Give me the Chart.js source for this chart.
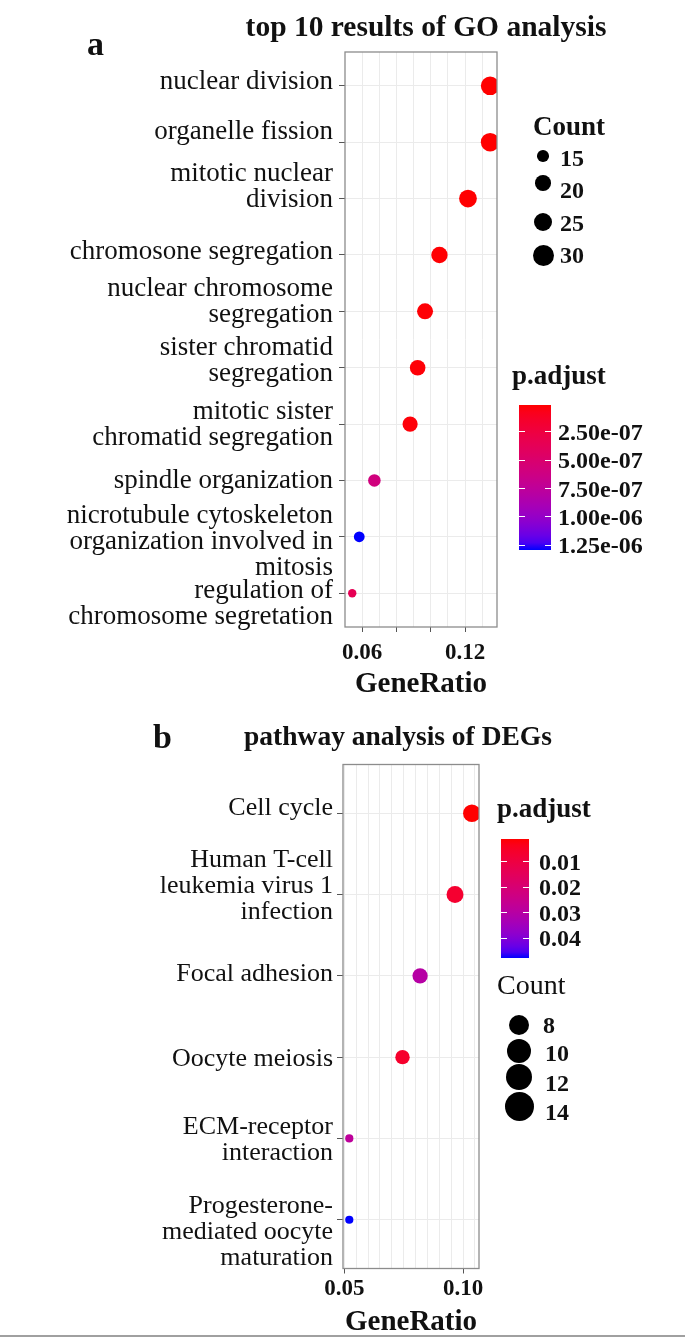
<!DOCTYPE html>
<html>
<head>
<meta charset="utf-8">
<script src="https://cdn.jsdelivr.net/npm/chart.js"></script>
<style>
  html, body { margin: 0; padding: 0; background: #fff; }
  #page { position: relative; width: 685px; height: 1340px; overflow: hidden;
          font-family: "Liberation Serif", "Times New Roman", serif; color: #111; }
  canvas { position: absolute; left: 0; }
  .txt { position: absolute; white-space: nowrap; line-height: 1; }
  .dot { position: absolute; border-radius: 50%; background: #000; }
  .bar { position: absolute; }
  .tk { position: absolute; height: 1px; background: #fff; }
  .rule { position: absolute; left: 0; width: 685px; top: 1335px; height: 2px; background: #a0a0a0; }
</style>
</head>
<body>
<div id="page">
  <canvas id="chartA" width="685" height="700" style="top:0"></canvas>
  <canvas id="chartB" width="685" height="640" style="top:700px"></canvas>
  <div class="rule"></div>
</div>
<script>
// ---- panel a: GO analysis ----
const termsA = [
  "nuclear division",
  "organelle fission",
  ["mitotic nuclear", "division"],
  "chromosone segregation",
  ["nuclear chromosome", "segregation"],
  ["sister chromatid", "segregation"],
  ["mitotic sister", "chromatid segregation"],
  "spindle organization",
  ["nicrotubule cytoskeleton", "organization involved in", "mitosis"],
  ["regulation of", "chromosome segretation"]
];
const ratioA = [0.1346, 0.1346, 0.1217, 0.1051, 0.0967, 0.0924, 0.0880, 0.0672, 0.0584, 0.0543];
const countA = [30, 30, 27, 23, 22, 21, 20, 15, 13, 12];
const padjA = [1.6e-8, 1.7e-8, 1.9e-8, 2.2e-8, 2.6e-8, 3.0e-8, 3.5e-8, 5.9e-7, 1.29e-6, 3.6e-7];
const xGridA = [0.06, 0.07, 0.08, 0.09, 0.10, 0.11, 0.12, 0.13];
const xLabelA = [0.06, 0.12];
const xMarkA = [0.06, 0.08, 0.10, 0.12];
const countLegendA = [15, 20, 25, 30];
const padjTicksA = [2.5e-7, 5.0e-7, 7.5e-7, 1.0e-6, 1.25e-6];
const padjTickLabelsA = ["2.50e-07", "5.00e-07", "7.50e-07", "1.00e-06", "1.25e-06"];

// ---- panel b: pathway analysis ----
const termsB = [
  "Cell cycle",
  ["Human T-cell", "leukemia virus 1", "infection"],
  "Focal adhesion",
  "Oocyte meiosis",
  ["ECM-receptor", "interaction"],
  ["Progesterone-", "mediated oocyte", "maturation"]
];
const ratioB = [0.1037, 0.0966, 0.0819, 0.0745, 0.0521, 0.0521];
const countB = [14, 13, 11, 10, 7, 7];
const padjB = [0.0011, 0.0067, 0.030, 0.0062, 0.028, 0.0477];
const xGridB = [0.05, 0.055, 0.06, 0.065, 0.07, 0.075, 0.08, 0.085, 0.09, 0.095, 0.10, 0.105];
const xLabelB = [0.05, 0.10];
const xMarkB = [0.05, 0.10];
const countLegendB = [8, 10, 12, 14];
const padjTicksB = [0.01, 0.02, 0.03, 0.04];
const padjTickLabelsB = ["0.01", "0.02", "0.03", "0.04"];

// ---- look ----
const FONT = '"Liberation Serif", "Times New Roman", serif';
const INK = "#111";
const GRID = "#ebebeb";

const layoutA = {
  canvas: "chartA", canvasH: 700, left: 345, right: 497, top: 52, bottom: 627,
  xMin: 0.0501, xMax: 0.1386, rRange: [4.2, 9.3],
  tickPad: 7, titlePad: 1, labelSize: 27, labelPad: 12,
  labelNudge: [-4, -10, -12, -3, -9, -6.5, 1, 0, 4.7, 11]
};
const layoutB = {
  canvas: "chartB", canvasH: 640, left: 343, right: 479, top: 64.5, bottom: 568.5,
  xMin: 0.04945, xMax: 0.1067, rRange: [4.1, 8.8],
  tickPad: 2, titlePad: 3, labelSize: 26, labelPad: 10,
  labelNudge: [-5, -8, -2, 2, 2, 12]
};

// ggplot-like red -> blue gradient, interpolated in Lab
const LOW = [255, 0, 0], HIGH = [0, 0, 255];
const WP = [0.95047, 1, 1.08883];
function toLin(c) { c /= 255; return c <= 0.04045 ? c / 12.92 : Math.pow((c + 0.055) / 1.055, 2.4); }
function toSrgb(c) {
  c = c <= 0.0031308 ? 12.92 * c : 1.055 * Math.pow(Math.max(c, 0), 1 / 2.4) - 0.055;
  return Math.round(Math.max(0, Math.min(1, c)) * 255);
}
function fLab(t) { return t > 0.008856 ? Math.cbrt(t) : 7.787 * t + 16 / 116; }
function fInv(t) { return t > 0.206893 ? t * t * t : (t - 16 / 116) / 7.787; }
function rgb2lab([r, g, b]) {
  const R = toLin(r), G = toLin(g), B = toLin(b);
  const X = (0.4124 * R + 0.3576 * G + 0.1805 * B) / WP[0];
  const Y = 0.2126 * R + 0.7152 * G + 0.0722 * B;
  const Z = (0.0193 * R + 0.1192 * G + 0.9505 * B) / WP[2];
  const fx = fLab(X), fy = fLab(Y), fz = fLab(Z);
  return [116 * fy - 16, 500 * (fx - fy), 200 * (fy - fz)];
}
function lab2rgb([L, a, b]) {
  const fy = (L + 16) / 116, fx = fy + a / 500, fz = fy - b / 200;
  const X = fInv(fx) * WP[0], Y = fInv(fy), Z = fInv(fz) * WP[2];
  return [
    toSrgb(3.2406 * X - 1.5372 * Y - 0.4986 * Z),
    toSrgb(-0.9689 * X + 1.8758 * Y + 0.0415 * Z),
    toSrgb(0.0557 * X - 0.2040 * Y + 1.0570 * Z)
  ];
}
const labLow = rgb2lab(LOW), labHigh = rgb2lab(HIGH);
function gradient(t) {
  const c = lab2rgb(labLow.map((v, k) => v + (labHigh[k] - v) * t));
  return `rgb(${c[0]},${c[1]},${c[2]})`;
}
function colorOf(p, all) {
  const lo = Math.min(...all), hi = Math.max(...all);
  return gradient((p - lo) / (hi - lo));
}
// area scaling, as ggplot's scale_size
function sizeOf(c, all, [rMin, rMax]) {
  const lo = Math.min(...all), hi = Math.max(...all);
  return rMin + (rMax - rMin) * Math.sqrt((c - lo) / (hi - lo));
}
const near = (list, v) => list.some(l => Math.abs(l - v) < 1e-9);

const framePlugin = {
  id: "frame",
  afterDraw(chart) {
    const { ctx, chartArea: a } = chart;
    ctx.save();
    ctx.strokeStyle = "#8c8c8c";
    ctx.lineWidth = 1.3;
    ctx.strokeRect(a.left, a.top, a.right - a.left, a.bottom - a.top);
    ctx.restore();
  }
};

function makeChart(L, terms, ratio, count, padj, xGrid, xLabel, xMark) {
  const n = terms.length;
  const yMin = -0.6, yMax = n - 1 + 0.6;
  const rowPx = (L.bottom - L.top) / (yMax - yMin);

  return new Chart(document.getElementById(L.canvas), {
    type: "bubble",
    data: {
      datasets: [{
        data: ratio.map((x, i) => ({ x, y: i, r: sizeOf(count[i], count, L.rRange) })),
        backgroundColor: padj.map(p => colorOf(p, padj)),
        borderWidth: 0,
        xAxisID: "x",
        yAxisID: "y"
      }]
    },
    options: {
      responsive: false,
      animation: false,
      events: [],
      layout: { padding: { left: 0, right: 685 - L.right, top: L.top, bottom: 0 } },
      plugins: { legend: { display: false }, tooltip: { enabled: false } },
      scales: {
        x: {
          type: "linear", min: L.xMin, max: L.xMax,
          afterBuildTicks: s => { s.ticks = xGrid.map(v => ({ value: v })); },
          afterFit: s => { s.height = L.canvasH - L.bottom; },
          ticks: {
            autoSkip: false, maxRotation: 0, padding: L.tickPad, color: INK,
            font: { family: FONT, size: 23, weight: "bold" },
            callback: v => near(xLabel, v) ? v.toFixed(2) : ""
          },
          grid: {
            color: GRID, lineWidth: 1, tickLength: 5,
            tickColor: c => (c.tick && near(xMark, c.tick.value)) ? "#555" : "rgba(0,0,0,0)"
          },
          border: { display: false },
          title: {
            display: true, text: "GeneRatio", color: INK,
            font: { family: FONT, size: 29, weight: "bold", lineHeight: 1 },
            padding: { top: 0, bottom: L.titlePad }
          }
        },
        y: {
          type: "linear", position: "left", reverse: true, min: yMin, max: yMax, weight: 0,
          afterBuildTicks: s => { s.ticks = terms.map((_, i) => ({ value: i })); },
          afterFit: s => { s.width = 0; },
          ticks: { display: false },
          grid: { color: GRID, lineWidth: 1, tickLength: 6, tickColor: "#555" },
          border: { display: false }
        },
        yLab: {
          type: "linear", position: "left", reverse: true, min: yMin, max: yMax, weight: 1,
          afterBuildTicks: s => { s.ticks = terms.map((_, i) => ({ value: i + L.labelNudge[i] / rowPx })); },
          afterFit: s => { s.width = L.left; },
          ticks: {
            autoSkip: false, padding: L.labelPad, color: INK,
            font: { family: FONT, size: L.labelSize, lineHeight: 26 / L.labelSize },
            callback: (v, i) => terms[i]
          },
          grid: { display: false, drawTicks: false },
          border: { display: false }
        }
      }
    },
    plugins: [framePlugin]
  });
}

// ---- titles and legends as page text ----
const page = document.getElementById("page");
function add(cls, style, text) {
  const d = document.createElement("div");
  d.className = cls;
  Object.assign(d.style, style);
  if (text != null) d.textContent = text;
  page.appendChild(d);
  return d;
}
function text(str, left, top, size, bold, extra) {
  return add("txt", Object.assign({ left: left + "px", top: top + "px", fontSize: size + "px",
    fontWeight: bold ? "bold" : "normal" }, extra || {}), str);
}

function colorBar(bar, padj, ticks, labels, labelX) {
  const lo = Math.min(...padj), hi = Math.max(...padj);
  const stops = [];
  for (let k = 0; k <= 20; k++) stops.push(`${gradient(k / 20)} ${k * 5}%`);
  add("bar", { left: bar.left + "px", top: bar.top + "px", width: bar.w + "px", height: bar.h + "px",
    background: `linear-gradient(to bottom, ${stops.join(", ")})` });
  ticks.forEach((v, i) => {
    const y = bar.top + (v - lo) / (hi - lo) * bar.h;
    const tl = Math.round(bar.w / 5);
    add("tk", { left: bar.left + "px", top: (y - 0.5) + "px", width: tl + "px" });
    add("tk", { left: (bar.left + bar.w - tl) + "px", top: (y - 0.5) + "px", width: tl + "px" });
    text(labels[i], labelX, y - 12, 24, true);
  });
}

function sizeLegend(values, lg) {
  values.forEach((v, i) => {
    const d = lg.dotD[i];
    add("dot", { left: (lg.dotX - d / 2) + "px", top: (lg.dotY[i] - d / 2) + "px", width: d + "px", height: d + "px" });
    text(String(v), lg.labelX[i], lg.labelY[i] - 12, 24, true);
  });
}

// panel a headings
text("a", 87, 27, 34, true);
text("top 10 results of GO analysis", 426, 12, 29.5, true, { transform: "translateX(-50%)" });
// panel a legends
text("Count", 533, 113, 27, true);
sizeLegend(countLegendA, {
  dotX: 543, dotY: [156, 183, 222, 255], dotD: [11.7, 15.7, 18.3, 21],
  labelX: [560, 560, 560, 560], labelY: [158, 190, 223, 255]
});
text("p.adjust", 512, 362, 27, true);
colorBar({ left: 519, top: 405, w: 32, h: 145 }, padjA, padjTicksA, padjTickLabelsA, 558);

// panel b headings
text("b", 153, 720, 34, true);
text("pathway analysis of DEGs", 398, 722, 27.5, true, { transform: "translateX(-50%)" });
// panel b legends
text("p.adjust", 497, 795, 27, true);
colorBar({ left: 501, top: 839, w: 28, h: 119 }, padjB, padjTicksB, padjTickLabelsB, 539);
text("Count", 497, 971, 28, false);
sizeLegend(countLegendB, {
  dotX: 519.3, dotY: [1025, 1050.7, 1077.3, 1106.7], dotD: [20, 24, 26, 29],
  labelX: [543, 545, 545, 545], labelY: [1025, 1053, 1083, 1112]
});

makeChart(layoutA, termsA, ratioA, countA, padjA, xGridA, xLabelA, xMarkA);
makeChart(layoutB, termsB, ratioB, countB, padjB, xGridB, xLabelB, xMarkB);
</script>
</body>
</html>
